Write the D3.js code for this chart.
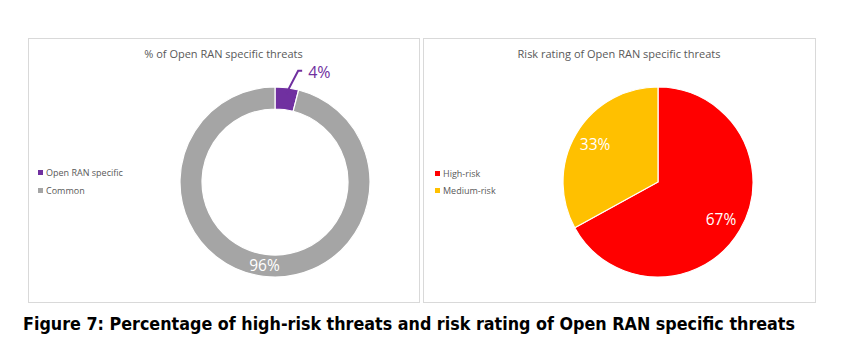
<!DOCTYPE html>
<html><head><meta charset="utf-8">
<script src="https://cdn.jsdelivr.net/npm/d3@7"></script>
<style>html,body{margin:0;padding:0;background:#fff;}svg{display:block;}</style>
</head><body>
<svg id="chart" width="865" height="354"></svg>
<script>
// Data
const donutTitle = "% of Open RAN specific threats";
const donutCategories = ["Open RAN specific", "Common"];
const donutValues = [4, 96];
const donutColors = ["#7030A0", "#A5A5A5"];

const pieTitle = "Risk rating of Open RAN specific threats";
const pieCategories = ["High-risk", "Medium-risk"];
const pieValues = [67, 33];
const pieColors = ["#FF0000", "#FFC000"];

const caption = "Figure 7: Percentage of high-risk threats and risk rating of Open RAN specific threats";

const svg = d3.select("#chart");
const font = "'Open Sans', 'Noto Sans', sans-serif";

// panels
const panels = [
  {x: 28, y: 38, w: 391, h: 264},
  {x: 423, y: 38, w: 392, h: 264}
];
panels.forEach(p => svg.append("rect").attr("x", p.x + 0.5).attr("y", p.y + 0.5)
  .attr("width", p.w).attr("height", p.h).attr("fill", "#fff")
  .attr("stroke", "#D9D9D9").attr("stroke-width", 1));

const pie = d3.pie().sort(null).value(d => d);
const total = arr => d3.sum(arr);

// ---------- Donut ----------
{
  const cx = 275, cy = 182, rO = 95, rI = 73;
  const g = svg.append("g").attr("transform", `translate(${cx},${cy})`);
  const arcs = pie(donutValues);
  const arc = d3.arc().innerRadius(rI).outerRadius(rO);
  g.selectAll("path").data(arcs).join("path")
    .attr("d", arc).attr("fill", (d, i) => donutColors[i])
    .attr("stroke", "#fff").attr("stroke-width", 1.2);

  // 96% label inside ring
  const labArc = d3.arc().innerRadius((rI + rO) / 2).outerRadius((rI + rO) / 2);
  const c1 = labArc.centroid(arcs[1]);
  g.append("text").attr("x", c1[0]).attr("y", c1[1]).attr("dy", "0.35em")
    .attr("text-anchor", "middle").attr("fill", "#fff")
    .attr("font-family", font).attr("font-size", 15.5)
    .text(Math.round(donutValues[1] / total(donutValues) * 100) + "%");

  // 4% outside with leader line
  const a0 = arcs[0];
  const mid = (a0.startAngle + a0.endAngle) / 2;
  const p0 = [Math.sin(mid) * (rO - 6), -Math.cos(mid) * (rO - 6)];
  const p1 = [p0[0] + 12, p0[1] - 23];
  const p2 = [p1[0] + 4, p1[1]];
  g.append("path").attr("d", d3.line()([p0, p1, p2]))
    .attr("fill", "none").attr("stroke", donutColors[0]).attr("stroke-width", 2);
  g.append("text").attr("x", p2[0] + 6).attr("y", p2[1] + 1).attr("dy", "0.38em")
    .attr("fill", donutColors[0]).attr("font-family", font).attr("font-size", 16)
    .text(Math.round(donutValues[0] / total(donutValues) * 100) + "%");

  svg.append("text").attr("x", 223.5).attr("y", 58).attr("text-anchor", "middle")
    .attr("fill", "#595959").attr("font-family", font).attr("font-size", 11)
    .text(donutTitle);

  const lg = svg.append("g").attr("transform", "translate(38,173)");
  donutCategories.forEach((c, i) => {
    const row = lg.append("g").attr("transform", `translate(0,${i * 18})`);
    row.append("rect").attr("x", 0).attr("y", -3).attr("width", 5).attr("height", 5).attr("fill", donutColors[i]);
    row.append("text").attr("x", 8).attr("y", 0).attr("dy", "0.35em")
      .attr("fill", "#595959").attr("font-family", font).attr("font-size", 9).text(c);
  });
}

// ---------- Pie ----------
{
  const cx = 658, cy = 182, r = 95;
  const g = svg.append("g").attr("transform", `translate(${cx},${cy})`);
  const arcs = pie(pieValues);
  const arc = d3.arc().innerRadius(0).outerRadius(r);
  g.selectAll("path").data(arcs).join("path")
    .attr("d", arc).attr("fill", (d, i) => pieColors[i])
    .attr("stroke", "#fff").attr("stroke-width", 1.2);
  const labArc = d3.arc().innerRadius(r * 0.77).outerRadius(r * 0.77);
  g.selectAll("text.lab").data(arcs).join("text").attr("class", "lab")
    .attr("x", d => labArc.centroid(d)[0]).attr("y", d => labArc.centroid(d)[1])
    .attr("dy", "0.35em").attr("text-anchor", "middle").attr("fill", "#fff")
    .attr("font-family", font).attr("font-size", 15.5)
    .text(d => Math.round(d.data / total(pieValues) * 100) + "%");

  svg.append("text").attr("x", 619).attr("y", 58).attr("text-anchor", "middle")
    .attr("fill", "#595959").attr("font-family", font).attr("font-size", 11)
    .text(pieTitle);

  const lg = svg.append("g").attr("transform", "translate(435,174)");
  pieCategories.forEach((c, i) => {
    const row = lg.append("g").attr("transform", `translate(0,${i * 17})`);
    row.append("rect").attr("x", 0).attr("y", -3).attr("width", 5).attr("height", 5).attr("fill", pieColors[i]);
    row.append("text").attr("x", 8).attr("y", 0).attr("dy", "0.35em")
      .attr("fill", "#595959").attr("font-family", font).attr("font-size", 9).text(c);
  });
}

// Caption
svg.append("text").attr("x", 23).attr("y", 330)
  .attr("font-family", "'DejaVu Sans', Verdana, sans-serif").attr("font-weight", "bold")
  .attr("font-size", 17).attr("fill", "#000")
  .attr("textLength", 772).attr("lengthAdjust", "spacingAndGlyphs")
  .text(caption);
</script>
</body></html>
